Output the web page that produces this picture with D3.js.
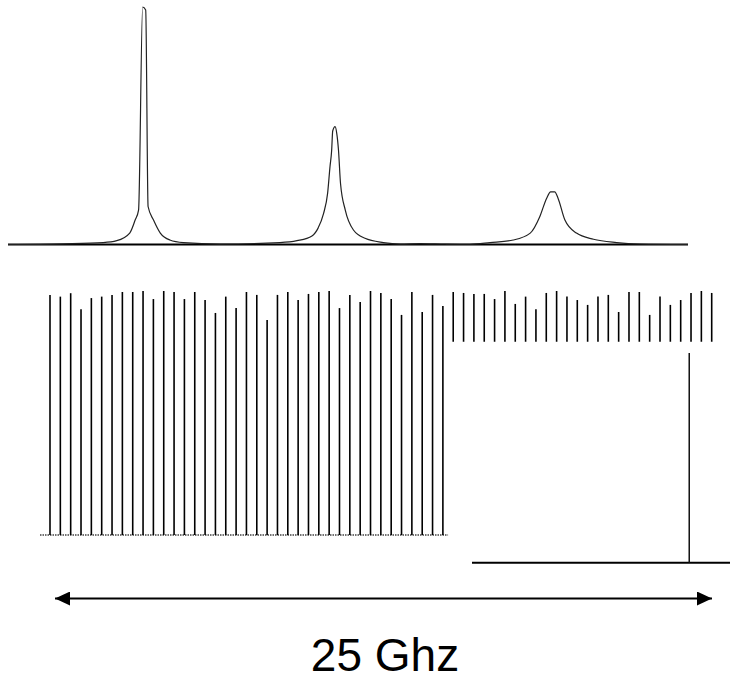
<!DOCTYPE html>
<html>
<head>
<meta charset="utf-8">
<script src="https://cdn.jsdelivr.net/npm/d3@7"></script>
<style>
  body { margin: 0; background: #fff; }
  svg { display: block; }
</style>
</head>
<body>
<div id="chart"></div>
<script>
// Filter transmission trace (top) : relative frequency 0-100, amplitude 0-1
var traceFreq = [0, 8.1, 14.0, 16.0, 17.9, 18.7, 19.2, 19.8, 20.25, 20.6, 21.4, 22.4, 23.8, 25.8, 31.2,
  40.0, 42.5, 44.7, 45.6, 46.4, 47.0, 47.35, 47.6, 47.75, 48.1, 48.35, 48.6, 48.9, 49.6, 50.8, 52.5, 55.2, 57.7,
  60.6, 64.3, 67.9, 70.9, 74.3, 76.8, 78.2, 79.2, 79.8, 80.4, 80.9, 81.9, 83.6, 86.1, 89.5, 92.9, 100];
var traceAmp = [0, 0.003, 0.008, 0.016, 0.048, 0.103, 0.145, 1.0, 0.987, 0.16, 0.103, 0.048, 0.019, 0.008, 0.002,
  0.008, 0.016, 0.036, 0.069, 0.13, 0.215, 0.327, 0.398, 0.478, 0.496, 0.467, 0.398, 0.257, 0.145, 0.061, 0.026, 0.008, 0.002,
  0.004, 0.002, 0.001, 0.008, 0.019, 0.048, 0.117, 0.194, 0.222, 0.222, 0.194, 0.103, 0.048, 0.022, 0.008, 0.002, 0];

// Comb lines (middle) : relative power of each line
var combPower = [0.984, 0.977, 0.991, 0.925, 0.971, 0.977, 0.984, 0.996, 0.996, 1.0,
  0.967, 1.0, 0.996, 0.967, 0.996, 0.963, 0.910, 0.977, 0.930, 0.996,
  0.984, 0.881, 0.984, 0.996, 0.963, 0.988, 0.996, 1.0, 0.930, 0.984,
  0.955, 1.0, 0.992, 0.967, 0.902, 0.996, 0.914, 0.984, 0.939,
  0.996, 0.992, 0.988, 0.988, 0.967, 1.0, 0.947, 0.977, 0.925, 0.992,
  1.0, 0.977, 0.963, 0.943, 0.977, 0.984, 0.914, 0.996, 0.996, 0.902,
  0.977, 0.943, 0.963, 0.992, 1.0, 0.992];
// lines from this index on are hidden below by the filtered panel
var combSplit = 39;

// Filtered single line (bottom right)
var filteredFreq = [0.842];
var filteredAmp = [1];

var spanLabel = "25 Ghz";

var svgWidth = 737;
var svgHeight = 681;

var svg = d3.select("#chart")
  .append("svg")
  .attr("width", svgWidth)
  .attr("height", svgHeight);

// ---- top panel ----
var xTop = d3.scaleLinear().domain([0, 100]).range([8, 688]);
var yTop = d3.scaleLinear().domain([0, 1]).range([244.5, 7]);

var topData = traceFreq.map((f, i) => ({ f: f, a: traceAmp[i] }));

svg.append("line")
  .attr("x1", xTop(0))
  .attr("x2", xTop(100))
  .attr("y1", yTop(0))
  .attr("y2", yTop(0))
  .attr("stroke", "#000")
  .attr("stroke-width", 2);

svg.append("path")
  .datum(topData)
  .attr("fill", "none")
  .attr("stroke", "#222")
  .attr("stroke-width", 1.2)
  .attr("d", d3.line().curve(d3.curveMonotoneX).x(d => xTop(d.f)).y(d => yTop(d.a)));

// ---- comb panel ----
var xComb = d3.scaleLinear().domain([0, combPower.length - 1]).range([50, 711.7]);
var yComb = d3.scaleLinear().domain([0, 1]).range([535, 291]);

// noisy baseline under the comb
svg.append("line")
  .attr("x1", xComb(0) - 10)
  .attr("x2", xComb(combSplit) + 2)
  .attr("y1", yComb(0))
  .attr("y2", yComb(0))
  .attr("stroke", "#444")
  .attr("stroke-width", 1.5)
  .attr("stroke-dasharray", "1.5,1");

svg.append("g")
  .selectAll("line")
  .data(combPower)
  .enter()
  .append("line")
  .attr("x1", (d, i) => xComb(i))
  .attr("x2", (d, i) => xComb(i))
  .attr("y1", d => yComb(d))
  .attr("y2", yComb(0))
  .attr("stroke", "#000")
  .attr("stroke-width", 1.6);

// ---- filtered panel (covers the lower part of the comb) ----
var xFilt = d3.scaleLinear().domain([0, 1]).range([472, 730]);
var yFilt = d3.scaleLinear().domain([0, 1]).range([562.7, 353]);

svg.append("rect")
  .attr("x", (xComb(combSplit - 1) + xComb(combSplit)) / 2)
  .attr("y", yComb(0.792))
  .attr("width", svgWidth)
  .attr("height", yFilt(0) - yComb(0.792) + 10)
  .attr("fill", "#fff");

svg.append("line")
  .attr("x1", xFilt(0))
  .attr("x2", xFilt(1))
  .attr("y1", yFilt(0))
  .attr("y2", yFilt(0))
  .attr("stroke", "#000")
  .attr("stroke-width", 2);

svg.append("g")
  .selectAll("line")
  .data(filteredFreq)
  .enter()
  .append("line")
  .attr("x1", d => xFilt(d))
  .attr("x2", d => xFilt(d))
  .attr("y1", (d, i) => yFilt(filteredAmp[i]))
  .attr("y2", yFilt(0))
  .attr("stroke", "#111")
  .attr("stroke-width", 1.5);

// ---- span arrow ----
var defs = svg.append("defs");
defs.append("marker")
  .attr("id", "head")
  .attr("viewBox", "0 0 15 14")
  .attr("refX", 15)
  .attr("refY", 7)
  .attr("markerWidth", 15)
  .attr("markerHeight", 14)
  .attr("markerUnits", "userSpaceOnUse")
  .attr("orient", "auto-start-reverse")
  .append("path")
  .attr("d", "M0,0 L15,7 L0,14 Z")
  .attr("fill", "#000");

svg.append("line")
  .attr("x1", 55)
  .attr("x2", 712)
  .attr("y1", 598.5)
  .attr("y2", 598.5)
  .attr("stroke", "#000")
  .attr("stroke-width", 2)
  .attr("marker-start", "url(#head)")
  .attr("marker-end", "url(#head)");

svg.append("text")
  .attr("x", 385)
  .attr("y", 671)
  .attr("text-anchor", "middle")
  .style("font-family", "Arial, 'Liberation Sans', sans-serif")
  .style("font-size", "46px")
  .attr("fill", "#000")
  .text(spanLabel);
</script>
</body>
</html>
